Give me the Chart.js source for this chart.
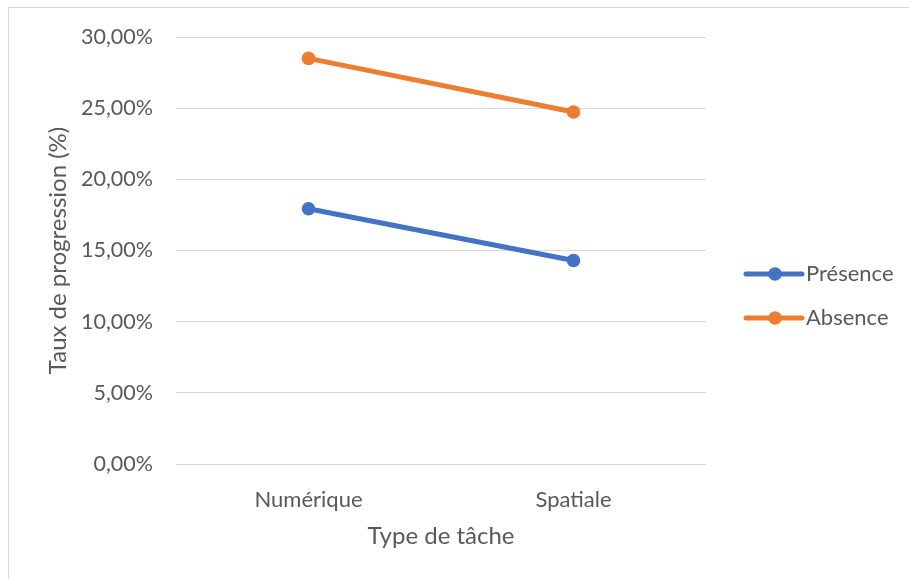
<!DOCTYPE html>
<html>
<head>
<meta charset="utf-8">
<script src="https://cdn.jsdelivr.net/npm/chart.js@4/dist/chart.umd.min.js"></script>
<style>
    html, body { margin: 0; padding: 0; background: #fff; overflow: hidden; }
    #wrap { position: relative; width: 909px; height: 579px; }
    #frame { position: absolute; left: 8px; top: 7px; width: 1000px; height: 1000px; border: 1px solid #d9d9d9; }
    canvas { position: absolute; left: 0; top: 0; }
</style>
</head>
<body>
<div id="wrap">
    <div id="frame"></div>
    <canvas id="taux-chart" width="909" height="579"></canvas>
</div>
<script>
const taches   = ['Numérique', 'Spatiale'];
const presence = [17.93, 14.30];
const absence  = [28.50, 24.73];
const yTicks   = [0, 5, 10, 15, 20, 25, 30];

const textColor = '#595959';
const fontName  = 'Lato, "Open Sans", sans-serif';

function fmtPct(v) {
    return v.toFixed(2).replace('.', ',') + '%';
}

// légende à droite : trait + rond comme dans Excel
const legendPlugin = {
    id: 'excelLegend',
    afterDraw(chart) {
        const ctx  = chart.ctx;
        const area = chart.chartArea;
        const x0   = area.right + 40;
        chart.data.datasets.forEach((ds, i) => {
            const y = area.top + 237 + i * 44;
            ctx.save();
            ctx.strokeStyle = ds.borderColor;
            ctx.lineWidth   = 5;
            ctx.lineCap     = 'round';
            ctx.beginPath();
            ctx.moveTo(x0, y);
            ctx.lineTo(x0 + 56, y);
            ctx.stroke();
            ctx.fillStyle = ds.borderColor;
            ctx.beginPath();
            ctx.arc(x0 + 29, y, 6.8, 0, Math.PI * 2);
            ctx.fill();
            ctx.fillStyle    = textColor;
            ctx.font         = '22px ' + fontName;
            ctx.textBaseline = 'middle';
            ctx.textAlign    = 'left';
            ctx.fillText(ds.label, x0 + 60, y);
            ctx.restore();
        });
    },
};

const ctx = document.getElementById('taux-chart').getContext('2d');
new Chart(ctx, {
    type: 'line',
    data: {
        labels: taches,
        datasets: [
            {
                label: 'Présence',
                data: presence,
                borderColor: '#4472C4',
                backgroundColor: '#4472C4',
                borderWidth: 5,
                pointRadius: 6.8,
                pointHoverRadius: 6.8,
                pointBorderWidth: 0,
                tension: 0,
            },
            {
                label: 'Absence',
                data: absence,
                borderColor: '#ED7D31',
                backgroundColor: '#ED7D31',
                borderWidth: 5,
                pointRadius: 6.8,
                pointHoverRadius: 6.8,
                pointBorderWidth: 0,
                tension: 0,
            },
        ],
    },
    options: {
        responsive: false,
        animation: false,
        layout: { padding: { left: 0, right: 203, top: 37, bottom: 0 } },
        plugins: {
            legend: { display: false },
            tooltip: { enabled: false },
        },
        scales: {
            x: {
                offset: true,
                grid: { display: false, drawTicks: false },
                border: { display: false },
                ticks: {
                    color: textColor,
                    font: { family: fontName, size: 22 },
                    padding: 23,
                },
                title: {
                    display: true,
                    text: 'Type de tâche',
                    color: textColor,
                    font: { family: fontName, size: 24 },
                    padding: { top: 0, bottom: 28 },
                },
                afterFit(scale) { scale.height = 115; },
            },
            y: {
                min: 0,
                max: 30,
                afterBuildTicks(scale) { scale.ticks = yTicks.map(v => ({ value: v })); },
                grid: { color: '#d9d9d9', lineWidth: 1, drawTicks: false },
                border: { display: false },
                ticks: {
                    color: textColor,
                    font: { family: fontName, size: 21.5 },
                    padding: 23,
                    callback: v => fmtPct(v),
                },
                title: {
                    display: true,
                    text: 'Taux de progression (%)',
                    color: textColor,
                    font: { family: fontName, size: 24 },
                    padding: { top: 44, bottom: 0 },
                },
                afterFit(scale) { scale.width = 176; },
            },
        },
    },
    plugins: [legendPlugin],
});
</script>
</body>
</html>
